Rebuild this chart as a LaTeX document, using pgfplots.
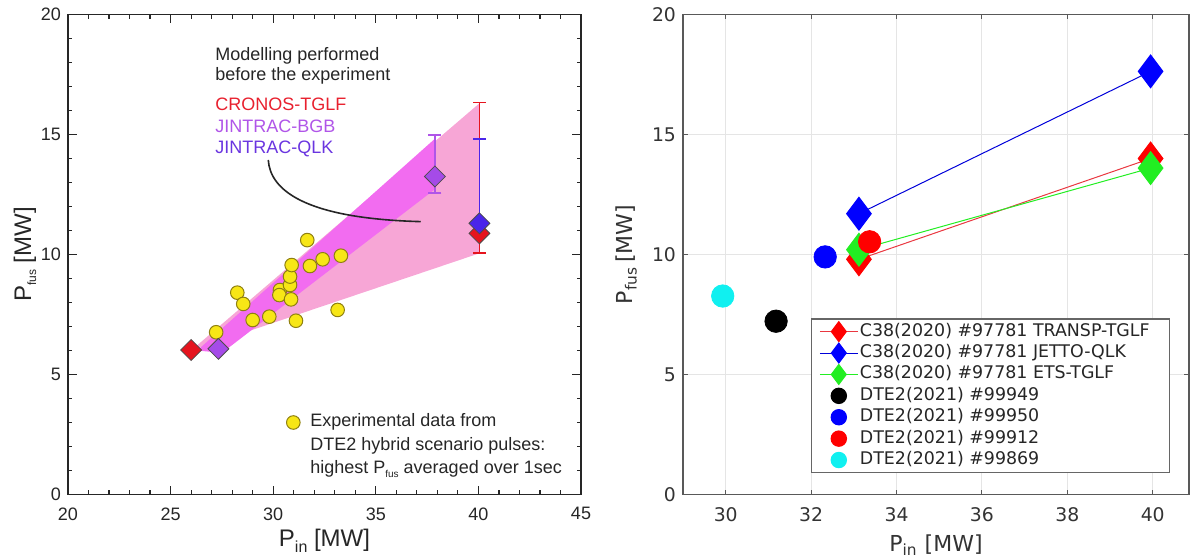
\documentclass[border=0pt]{standalone}
\usepackage{fontspec}
\setmainfont{Liberation Sans}
\newfontfamily\dv{DejaVu Sans}
\usepackage{pgfplots}
\pgfplotsset{compat=1.18}
\definecolor{cred}{HTML}{E5141E}
\definecolor{cpur}{HTML}{A54BE8}
\definecolor{cblu}{HTML}{4A25EA}
\definecolor{cpink}{HTML}{F7A6D6}
\definecolor{cmag}{HTML}{F26CF0}
\definecolor{cyel}{HTML}{F7E616}
\definecolor{cyeld}{HTML}{8F8010}
\definecolor{tred}{HTML}{E8202E}
\definecolor{tbgb}{HTML}{B055E8}
\definecolor{tqlk}{HTML}{6A35E0}
\definecolor{rgreen}{HTML}{22EE22}
\definecolor{rcyan}{HTML}{10F0F0}
\newcommand{\lt}[1]{\makebox[150pt][l]{#1}}
\begin{document}
\begin{tikzpicture}
\useasboundingbox (0,0) rectangle (596pt,278.5pt);
% ---------------- left panel ----------------
\begin{axis}[
  at={(34pt,31.25pt)}, anchor=south west, scale only axis,
  width=256.5pt, height=240pt,
  xmin=20, xmax=45, ymin=0, ymax=20,
  xtick={20,25,30,35,40,45}, ytick={0,5,10,15,20},
  minor x tick num=4, minor y tick num=4,
  tick align=inside, major tick length=4.5pt, minor tick length=2.2pt,
  axis line style={black!85, line width=0.7pt},
  every tick/.style={black!85, line width=0.6pt},
  tick label style={font=\fontsize{9}{10}\selectfont, text=black!85},
  xticklabel style={yshift=-3pt},
  /pgf/number format/assume math mode=true,
  xlabel={P\raisebox{-0.45ex}{\fontsize{8}{8}\selectfont in} [MW]},
  ylabel={P\raisebox{-0.4ex}{\fontsize{6}{6}\selectfont fus} [MW]},
  label style={font=\fontsize{12}{13}\selectfont, text=black!85},
  xlabel style={at={(axis description cs:0.5,0)}, anchor=base, yshift=-26pt},
  ylabel style={at={(axis description cs:-0.072,0.5)}, anchor=base},
  clip=false,
]
\addplot[fill=cpink, draw=none] coordinates {(26.0,6.0) (40.05,16.3) (40.05,10.05)} -- cycle;
\addplot[fill=cmag, draw=none] coordinates {(26.3,6.0) (37.85,14.8) (37.85,12.7) (27.5,5.9)} -- cycle;
\draw[black!85, line width=0.8pt] (axis cs:29.76,13.94) .. controls (axis cs:29.85,12.7) and (axis cs:31.5,11.5) .. (axis cs:37.19,11.37);
% experimental data
\addplot[only marks, mark=*, mark size=3.4pt, mark options={fill=cyel, draw=cyeld, line width=0.5pt}] coordinates {
 (27.22,6.76) (28.25,8.41) (28.54,7.94) (29.0,7.27) (29.81,7.41) (30.33,8.52) (30.3,8.31)
 (30.82,8.73) (30.87,8.13) (30.82,9.08) (30.9,9.56) (31.11,7.24) (31.66,10.6) (31.79,9.52)
 (32.41,9.8) (33.14,7.69) (33.3,9.95)};
% diamonds without error bars
\addplot[only marks, mark=square*, mark size=3.7pt, mark options={rotate=45, fill=cred, draw=black!70, line width=0.4pt}] coordinates {(26.0,6.02)};
\addplot[only marks, mark=square*, mark size=3.7pt, mark options={rotate=45, fill=cpur, draw=black!70, line width=0.4pt}] coordinates {(27.33,6.07)};
% error bars
\addplot[only marks, mark=none, tbgb, error bars/.cd, y dir=both, y explicit,
  error bar style={tbgb, line width=0.8pt},
  error mark options={tbgb, rotate=90, mark size=3.2pt, line width=0.8pt}]
  coordinates {(37.88,13.25) += (0,1.72) -= (0,0.68)};
\addplot[only marks, mark=none, cred, error bars/.cd, y dir=both, y explicit,
  error bar style={cred, line width=0.8pt},
  error mark options={cred, rotate=90, mark size=3.2pt, line width=0.8pt}]
  coordinates {(40.05,10.88) += (0,5.45) -= (0,0.83)};
\addplot[only marks, mark=none, cblu, error bars/.cd, y dir=plus, y explicit,
  error bar style={cblu, line width=0.8pt},
  error mark options={cblu, rotate=90, mark size=3.2pt, line width=0.8pt}]
  coordinates {(40.05,11.3) += (0,3.5) -= (0,0)};
\addplot[only marks, mark=square*, mark size=3.7pt, mark options={rotate=45, fill=cpur, draw=black!70, line width=0.4pt}] coordinates {(37.88,13.25)};
\addplot[only marks, mark=square*, mark size=3.7pt, mark options={rotate=45, fill=cred, draw=black!70, line width=0.4pt}] coordinates {(40.05,10.88)};
\addplot[only marks, mark=square*, mark size=3.7pt, mark options={rotate=45, fill=cblu, draw=black!70, line width=0.4pt}] coordinates {(40.05,11.3)};
% annotation texts
\begin{scope}[every node/.style={anchor=base west, font=\fontsize{9}{10}\selectfont, inner sep=0pt}]
\node[text=black!85] at (axis cs:27.16,18.1) {Modelling performed};
\node[text=black!85] at (axis cs:27.16,17.24) {before the experiment};
\node[text=tred] at (axis cs:27.16,16.02) {CRONOS-TGLF};
\node[text=tbgb] at (axis cs:27.16,15.1) {JINTRAC-BGB};
\node[text=tqlk] at (axis cs:27.16,14.19) {JINTRAC-QLK};
\node[text=black!85] at (axis cs:31.79,2.83) {Experimental data from};
\node[text=black!85] at (axis cs:31.79,1.85) {DTE2 hybrid scenario pulses:};
\node[text=black!85] at (axis cs:31.79,0.88) {highest P\raisebox{-0.4ex}{\fontsize{5}{5}\selectfont fus} averaged over 1sec};
\end{scope}
\addplot[only marks, mark=*, mark size=3.4pt, mark options={fill=cyel, draw=cyeld, line width=0.5pt}] coordinates {(30.98,3.0)};
\end{axis}
% ---------------- right panel ----------------
\begin{axis}[
  at={(341.5pt,31.25pt)}, anchor=south west, scale only axis,
  width=253pt, height=240pt,
  xmin=29, xmax=40.85, ymin=0, ymax=20,
  xtick={30,32,34,36,38,40}, ytick={0,5,10,15,20},
  grid=major, major grid style={black!10, line width=0.5pt},
  tick align=inside, major tick length=2.5pt,
  axis line style={black!65, line width=0.6pt},
  every tick/.style={black!65, line width=0.5pt},
  tick label style={font=\dv\fontsize{9.4}{10}\selectfont, text=black!80},
  xticklabel style={yshift=-3pt},
  /pgf/number format/assume math mode=true,
  xlabel={P\textsubscript{in} [MW]},
  ylabel={P\textsubscript{fus}\,[MW]},
  label style={font=\dv\fontsize{11}{12}\selectfont, text=black!80},
  xlabel style={at={(axis description cs:0.5,0)}, anchor=base, yshift=-28.5pt},
  ylabel style={at={(axis description cs:-0.1,0.5)}, anchor=base},
  legend style={at={(0.2524,0.367)}, anchor=north west, draw=black!60, line width=0.6pt,
    fill=white, inner xsep=4pt, inner ysep=1pt, row sep=0pt,
    font=\dv\fontsize{8.7}{9}\selectfont, text=black!85,
    nodes={inner sep=0.8pt, text height=6.8pt, text depth=2.3pt}},
  legend cell align=left,
  legend image code/.code={\draw[mark repeat=2, mark phase=2, #1] plot coordinates {(0pt,0pt) (9.5pt,0pt) (19pt,0pt)};},
]
\addplot[cred!85, line width=0.5pt, mark=diamond*, mark size=8.2pt, mark options={fill=red, draw=red, solid},
  legend image post style={mark size=5pt}] coordinates {(33.12,9.8) (39.95,14.0)};
\addlegendentry{\lt{C38(2020) \#97781 TRANSP-TGLF}}
\addplot[blue!85!black, line width=0.5pt, mark=diamond*, mark size=8.2pt, mark options={fill=blue, draw=blue, solid},
  legend image post style={mark size=5pt}] coordinates {(33.12,11.7) (39.95,17.63)};
\addlegendentry{\lt{C38(2020) \#97781 JETTO-QLK}}
\addplot[rgreen, line width=0.5pt, mark=diamond*, mark size=8.2pt, mark options={fill=rgreen, draw=rgreen, solid},
  legend image post style={mark size=5pt}] coordinates {(33.12,10.2) (39.95,13.6)};
\addlegendentry{\lt{C38(2020) \#97781 ETS-TGLF}}
\addplot[only marks, mark=*, mark size=5.6pt, mark options={fill=black, draw=black},
  legend image post style={mark size=3.8pt}] coordinates {(31.18,7.22)};
\addlegendentry{\lt{DTE2(2021) \#99949}}
\addplot[only marks, mark=*, mark size=5.6pt, mark options={fill=blue, draw=blue},
  legend image post style={mark size=3.8pt}] coordinates {(32.33,9.9)};
\addlegendentry{\lt{DTE2(2021) \#99950}}
\addplot[only marks, mark=*, mark size=5.6pt, mark options={fill=red, draw=red},
  legend image post style={mark size=3.8pt}] coordinates {(33.37,10.53)};
\addlegendentry{\lt{DTE2(2021) \#99912}}
\addplot[only marks, mark=*, mark size=5.6pt, mark options={fill=rcyan, draw=rcyan},
  legend image post style={mark size=3.8pt}] coordinates {(29.93,8.27)};
\addlegendentry{\lt{DTE2(2021) \#99869}}
\end{axis}
\end{tikzpicture}
\end{document}
